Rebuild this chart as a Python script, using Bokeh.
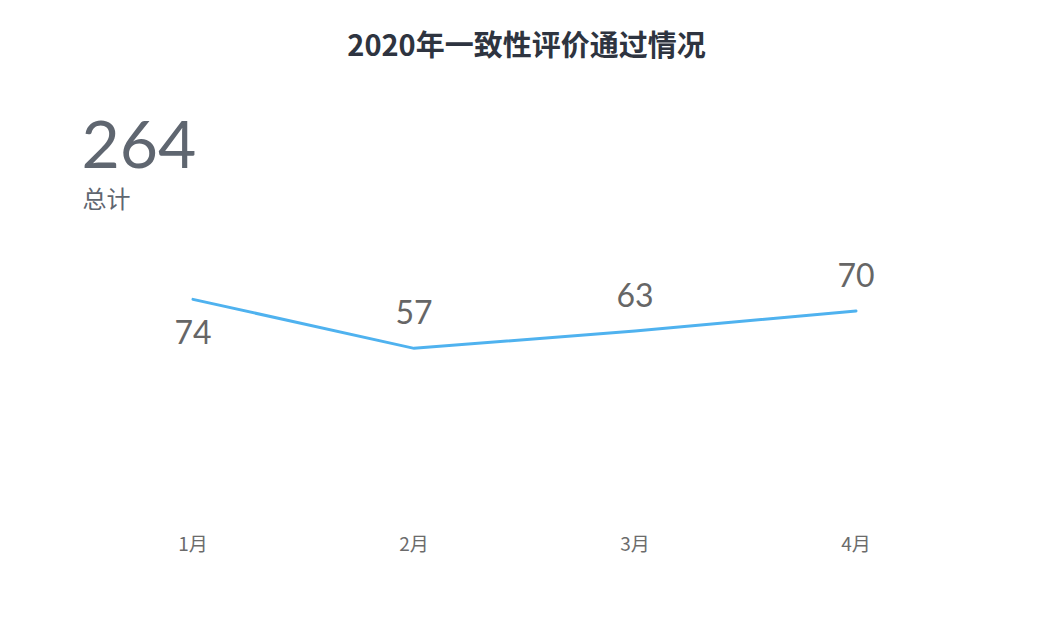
from bokeh.plotting import figure
from bokeh.models import ColumnDataSource, Range1d, FactorRange, Label
from bokeh.core.properties import value
from bokeh.embed import file_html
from bokeh.resources import INLINE

title_text = "2020年一致性评价通过情况"
months = ["1月", "2月", "3月", "4月"]
passed = [74, 57, 63, 70]
label_pos = ["below", "above", "above", "above"]
total_label = "总计"
total = sum(passed)

CJK = "Noto Sans CJK SC"
NUM = "Lato"

src = ColumnDataSource(dict(
    x=months,
    y=passed,
    txt=[str(v) for v in passed],
    off=[33 if p == "below" else -36 for p in label_pos],
))

p = figure(width=1039, height=617, x_range=FactorRange(*months, range_padding=0),
           y_range=Range1d(0, 175), output_backend="svg", toolbar_location=None,
           min_border_left=82, min_border_right=73, min_border_top=8, min_border_bottom=105)
p.outline_line_color = None
p.background_fill_color = "white"
p.border_fill_color = "white"
p.xgrid.grid_line_color = None
p.ygrid.grid_line_color = None
p.yaxis.visible = False
ax = p.xaxis[0]
ax.axis_line_color = None
ax.major_tick_line_color = None
ax.minor_tick_line_color = None
ax.major_tick_out = 0
ax.major_label_standoff = 16
ax.major_label_text_font = CJK
ax.major_label_text_font_size = "19px"
ax.major_label_text_color = "#6b6b6b"

p.line("x", "y", source=src, line_color="#4fb2ef", line_width=3,
       line_cap="round", line_join="miter")
p.text("x", "y", text="txt", y_offset="off", source=src, text_align="center",
       text_baseline="middle", text_font=value(NUM), text_font_size="32px",
       text_color="#666666")

p.add_layout(Label(x=444, y=470, x_units="screen", y_units="screen", text=title_text,
                   text_align="center", text_baseline="middle", text_font=CJK,
                   text_font_size="29px", text_font_style="bold", text_color="#2e3440"))
p.add_layout(Label(x=-1, y=368, x_units="screen", y_units="screen", text=str(total),
                   text_align="left", text_baseline="middle", text_font=NUM,
                   text_font_size="66px", text_color="#5f6670"))
p.add_layout(Label(x=0, y=315, x_units="screen", y_units="screen", text=total_label,
                   text_align="left", text_baseline="middle", text_font=CJK,
                   text_font_size="24px", text_color="#5f6670"))

open("out.html", "w").write(file_html(p, INLINE))
